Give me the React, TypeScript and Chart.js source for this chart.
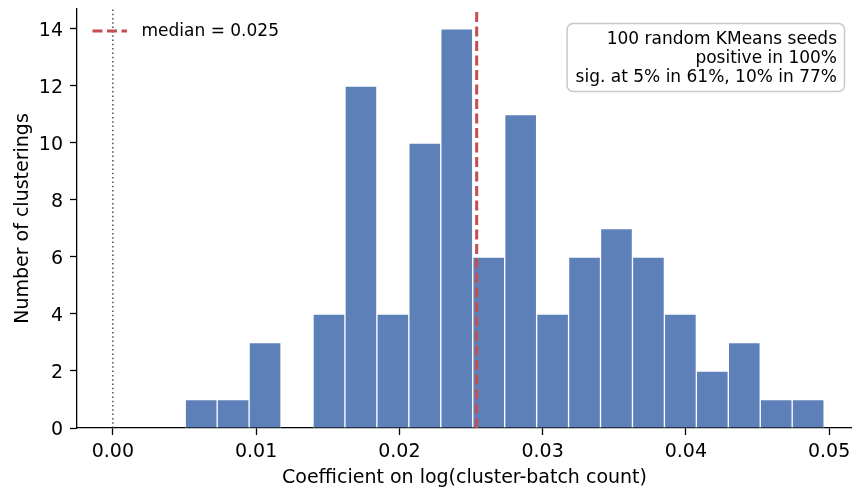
import React, { useEffect, useRef } from "react";
import { Chart, registerables } from "chart.js";

Chart.register(...registerables);

const binCenters = [
  0.00617, 0.0084, 0.01063, 0.01286, 0.01509, 0.01732, 0.01955, 0.02178, 0.02401, 0.02624,
  0.02847, 0.0307, 0.03293, 0.03516, 0.03739, 0.03962, 0.04185, 0.04408, 0.04631, 0.04854,
];
const binCounts = [1, 1, 3, 0, 4, 12, 4, 10, 14, 6, 11, 4, 6, 7, 6, 4, 2, 3, 1, 1];
const medianValue = 0.0254;
const medianLabel = "median = 0.025";
const zeroValue = 0;
const xTicks = [0, 0.01, 0.02, 0.03, 0.04, 0.05];
const yTicks = [0, 2, 4, 6, 8, 10, 12, 14];
const xRange = [-0.0025, 0.0516];
const yRange = [0, 14.7];
const infoLines = ["100 random KMeans seeds", "positive in 100%", "sig. at 5% in 61%, 10% in 77%"];
const xTitle = "Coefficient on log(cluster-batch count)";
const yTitle = "Number of clusterings";

const FONT = "'DejaVu Sans', sans-serif";
const BAR_COLOR = "rgb(94,128,184)";
const MEDIAN_COLOR = "#C44E52";

const overlayPlugin = {
  id: "overlay",
  afterDraw(chart: any) {
    const { ctx, chartArea } = chart;
    ctx.save();
    // legend
    const ly = chartArea.top + 22;
    ctx.strokeStyle = MEDIAN_COLOR;
    ctx.lineWidth = 3;
    ctx.setLineDash([10, 4.5]);
    ctx.beginPath();
    ctx.moveTo(chartArea.left + 15.5, ly);
    ctx.lineTo(chartArea.left + 50, ly);
    ctx.stroke();
    ctx.setLineDash([]);
    ctx.fillStyle = "#000";
    ctx.font = `17px ${FONT}`;
    ctx.textAlign = "left";
    ctx.textBaseline = "middle";
    ctx.fillText(medianLabel, chartArea.left + 64.5, ly + 0.5);

    // info box
    let maxW = 0;
    for (const l of infoLines) maxW = Math.max(maxW, ctx.measureText(l).width);
    const boxRight = chartArea.right - 7.5;
    const boxTop = chartArea.top + 14.5;
    const boxW = maxW + 16;
    const boxH = 68;
    ctx.beginPath();
    (ctx as any).roundRect(boxRight - boxW, boxTop, boxW, boxH, 6);
    ctx.fillStyle = "rgba(255,255,255,0.85)";
    ctx.fill();
    ctx.strokeStyle = "rgb(200,200,200)";
    ctx.lineWidth = 1.5;
    ctx.stroke();
    ctx.fillStyle = "#000";
    ctx.textAlign = "right";
    ctx.textBaseline = "alphabetic";
    infoLines.forEach((l, i) => {
      ctx.fillText(l, boxRight - 7.5, boxTop + 20 + i * 19.3);
    });
    ctx.restore();
  },
};

export default function App() {
  const ref = useRef<HTMLCanvasElement>(null);
  useEffect(() => {
    if (!ref.current) return;
    const axisCommon = {
      grid: {
        display: true,
        drawOnChartArea: false,
        drawTicks: true,
        tickLength: 7,
        tickWidth: 1.3,
        color: "#000",
        offset: false,
      },
      border: { display: true, color: "#000", width: 1.3 },
    };
    const chart = new Chart(ref.current, {
      type: "bar",
      data: {
        datasets: [
          {
            type: "line",
            label: medianLabel,
            data: [
              { x: medianValue, y: yRange[0] },
              { x: medianValue, y: yRange[1] },
            ],
            borderColor: MEDIAN_COLOR,
            borderWidth: 3,
            borderDash: [10, 4.5],
            pointRadius: 0,
            order: 0,
          } as any,
          {
            type: "line",
            label: "zero",
            data: [
              { x: zeroValue, y: yRange[0] },
              { x: zeroValue, y: yRange[1] },
            ],
            borderColor: "rgba(50,50,50,0.85)",
            borderWidth: 1.5,
            borderDash: [1.5, 2.8],
            pointRadius: 0,
            order: 1,
          } as any,
          {
            type: "bar",
            label: "counts",
            data: binCenters.map((x, i) => ({ x, y: binCounts[i] })),
            backgroundColor: BAR_COLOR,
            borderColor: "#fff",
            borderWidth: 1,
            barPercentage: 1,
            categoryPercentage: 1,
            order: 2,
          } as any,
        ],
      },
      options: {
        animation: false,
        responsive: false,
        layout: { padding: { top: 9, right: 0, left: 0, bottom: 0 } },
        plugins: { legend: { display: false }, tooltip: { enabled: false } },
        scales: {
          x: {
            type: "linear",
            min: xRange[0],
            max: xRange[1],
            offset: false,
            ...axisCommon,
            ticks: {
              font: { family: FONT, size: 19 },
              color: "#000",
              padding: 6,
              maxRotation: 0,
              autoSkip: false,
              callback: (v: any) => Number(v).toFixed(2),
            },
            title: {
              display: true,
              text: xTitle,
              color: "#000",
              font: { family: FONT, size: 19 },
              padding: { top: 0, bottom: 2 },
            },
            afterBuildTicks: (s: any) => {
              s.ticks = xTicks.map((v) => ({ value: v }));
            },
            afterFit: (s: any) => {
              s.height = 63;
              s.paddingLeft = 0;
              s.paddingRight = 0;
            },
          } as any,
          y: {
            type: "linear",
            min: yRange[0],
            max: yRange[1],
            ...axisCommon,
            ticks: {
              font: { family: FONT, size: 19 },
              color: "#000",
              padding: 7,
              labelOffset: 2.5,
              autoSkip: false,
            },
            title: {
              display: true,
              text: yTitle,
              color: "#000",
              font: { family: FONT, size: 19 },
              padding: { top: 12, bottom: 0 },
            },
            afterBuildTicks: (s: any) => {
              s.ticks = yTicks.map((v) => ({ value: v }));
            },
            afterFit: (s: any) => {
              s.width = 77;
              s.paddingTop = 0;
              s.paddingBottom = 0;
            },
          } as any,
        },
      } as any,
      plugins: [overlayPlugin],
    });
    return () => chart.destroy();
  }, []);
  return (
    <div style={{ position: "absolute", left: 0, top: 0, width: 852, height: 491, background: "#fff" }}>
      <canvas ref={ref} width={852} height={491} style={{ display: "block" }} />
    </div>
  );
}
